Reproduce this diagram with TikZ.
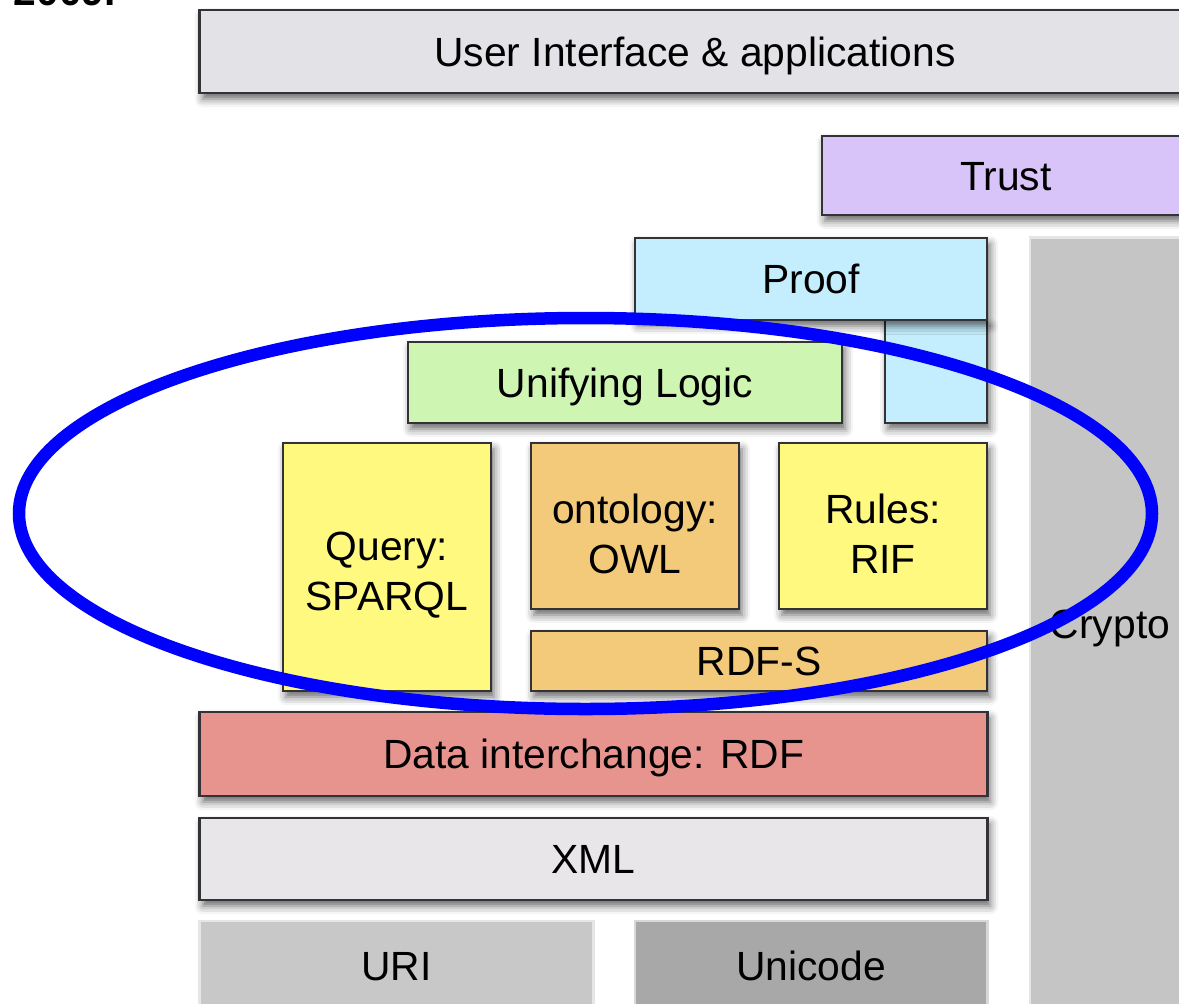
\documentclass[tikz,border=0pt]{standalone}
\usepackage{fontspec}
\setmainfont{Liberation Sans}
\usetikzlibrary{shadows.blur}
\definecolor{uigray}{RGB}{227,226,231}
\definecolor{trustlila}{RGB}{217,196,250}
\definecolor{proofblue}{RGB}{196,238,253}
\definecolor{logicgreen}{RGB}{206,246,178}
\definecolor{rulesyellow}{RGB}{255,249,128}
\definecolor{owlorange}{RGB}{243,201,122}
\definecolor{rdfred}{RGB}{232,148,142}
\definecolor{xmlgray}{RGB}{232,230,232}
\definecolor{urigray}{RGB}{200,200,200}
\definecolor{unigray}{RGB}{168,168,168}
\definecolor{cryptogray}{RGB}{197,197,197}
\definecolor{edgegray}{RGB}{50,50,55}
\begin{document}
\begin{tikzpicture}
        [x=0.01cm,y=-0.01cm,
         font=\fontsize{11.6}{14.2}\selectfont,
         layer/.style={draw=edgegray,line width=0.75pt,inner sep=0pt,outer sep=0pt,
           blur shadow={shadow xshift=0.03cm,shadow yshift=-0.06cm,shadow blur radius=0.08cm,shadow opacity=60}},
         flat/.style={draw=white!55!#1,fill=#1,line width=0.8pt,inner sep=0pt,outer sep=0pt},
         oneline/.style={text height=0.295cm,text depth=0pt}]
        \useasboundingbox (0,0) rectangle (1179,1003);
        \node[font=\fontsize{11.6}{14.2}\bfseries\selectfont,anchor=base west,inner sep=0pt] (Y) at (13,5) {2009.};

        \node[layer,oneline,fill=uigray,minimum width=9.9cm,minimum height=0.83cm] (UI) at (695,51.5) {User Interface \& applications};
        \node[layer,oneline,fill=trustlila,minimum width=3.68cm,minimum height=0.79cm] (T) at (1006,175.5) {Trust};
        \node[flat=cryptogray,minimum width=1.6cm,minimum height=7.72cm] (C) at (1110,624) {};
        \node at (C) [oneline] (CT) {Crypto};
        \node[layer,fill=proofblue,minimum width=1.02cm,minimum height=1.03cm] (PL) at (936,371.5) {};
        \node[layer,oneline,fill=proofblue,minimum width=3.52cm,minimum height=0.82cm] (P) at (811,279) {Proof};
        \node[layer,oneline,fill=logicgreen,minimum width=4.34cm,minimum height=0.81cm] (L) at (625,382.5) {Unifying Logic};
        \node[layer,fill=rulesyellow,minimum width=2.08cm,minimum height=2.48cm] (Q) at (387,567) {};
        \node[layer,fill=owlorange,minimum width=2.08cm,minimum height=1.66cm] (O) at (635,526) {};
        \node[layer,fill=rulesyellow,minimum width=2.08cm,minimum height=1.66cm] (R) at (883,526) {};
        \node[align=center] (QT) at ([yshift=-0.08cm]Q.center) {Query:\\SPARQL};
        \node[align=center] (OT) at ([yshift=-0.08cm]O.center) {ontology:\\OWL};
        \node[align=center] (RT) at ([yshift=-0.08cm]R.center) {Rules:\\RIF};
        \node[layer,oneline,fill=owlorange,minimum width=4.56cm,minimum height=0.6cm] (S) at (759,661) {RDF-S};
        \node[layer,oneline,fill=rdfred,minimum width=7.87cm,minimum height=0.84cm] (D) at (593.5,754) {Data interchange: RDF};
        \node[layer,oneline,fill=xmlgray,minimum width=7.87cm,minimum height=0.82cm] (X) at (593.5,859) {XML};
        \node[flat=urigray,oneline,minimum width=3.93cm,minimum height=0.89cm] (U) at (396.5,965.5) {URI};
        \node[flat=unigray,oneline,minimum width=3.52cm,minimum height=0.89cm] (UC) at (811,965.5) {Unicode};

        \draw[blue,line width=0.125cm] (585.5,513.5) ellipse [x radius=566.5,y radius=195.5];
      \end{tikzpicture}
\end{document}
